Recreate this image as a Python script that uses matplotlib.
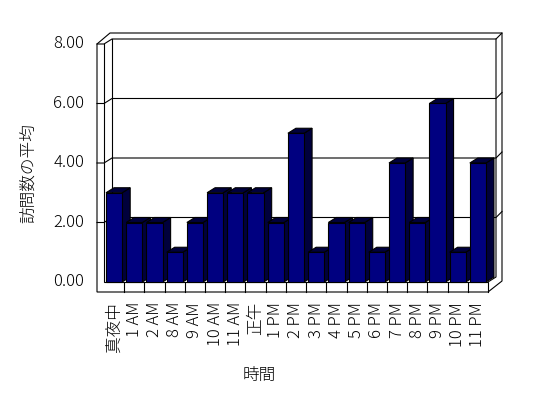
import matplotlib
matplotlib.use('Agg')
import matplotlib.pyplot as plt
from matplotlib.patches import Polygon

plt.rcParams['font.family'] = ['Noto Sans CJK JP', 'DejaVu Sans']
plt.rcParams['font.size'] = 12
plt.rcParams['font.weight'] = 'light'

hours = ['真夜中', '1 AM', '2 AM', '8 AM', '9 AM', '10 AM', '11 AM', '正午',
         '1 PM', '2 PM', '3 PM', '4 PM', '5 PM', '6 PM', '7 PM', '8 PM',
         '9 PM', '10 PM', '11 PM']
visits = [3, 2, 2, 1, 2, 3, 3, 3, 2, 5, 1, 2, 2, 1, 4, 2, 6, 1, 4]
yticks = [0, 2, 4, 6, 8]

W, H = 548, 398
fig = plt.figure(figsize=(W / 100, H / 100), dpi=100)
# front plane of the 3d box, in pixels
left, right, top, bottom = 104, 488, 44, 282
ax = fig.add_axes([left / W, 1 - bottom / H, (right - left) / W, (bottom - top) / H])
n = len(hours)
x0, x1 = -0.5, n - 0.5
ax.set_xlim(x0, x1)
ax.set_ylim(0, 8)
ax.axis('off')

kx = (right - left) / n   # px per category
ky = (bottom - top) / 8   # px per unit


def P(x, y, dx=0, dy=0):
    # data point shifted by dx px right, dy px up
    return (x + dx / kx, y + dy / ky)


def line(pts, z=1):
    xs, ys = zip(*pts)
    ax.plot(xs, ys, color='black', lw=0.8, zorder=z, clip_on=False,
            solid_joinstyle='miter')


D = (8, 5)      # depth of the floor / back wall
O = (14, 11)    # outer edge of the walls

# outline of the walls and floor
outer = [P(x0, 0, -7, -10), P(x0, 8, -7, 0), P(x0, 8, 6, 11), P(x1, 8, *O),
         P(x1, 0, 14, 1), P(x1, 0, 0, -10)]
ax.add_patch(Polygon(outer, closed=True, facecolor='white', edgecolor='black',
                     lw=0.8, zorder=0, clip_on=False))

line([P(x0, 8), P(x0, 0), P(x1, 0), P(x1, 0, 0, -10)])
line([P(x0, 8, -7, 0), P(x0, 8), P(x0, 8, *D), P(x1, 8, *D), P(x1, 8, *O)])
line([P(x1, 8, *D), P(x1, 0, *D), P(x1, 0)])
line([P(x0, 8, *D), P(x0, 0, *D)])
for v in yticks[1:-1]:
    line([P(x0, v, -7, 0), P(x0, v), P(x0, v, *D), P(x1, v, *D), P(x1, v, *O)])
for i in range(1, n):
    line([P(x0 + i, 0), P(x0 + i, 0, 0, -10)])

# bars
w = 0.8
dark = '#00003c'
for i, v in enumerate(visits):
    xl, xr = i - w / 2, i + w / 2
    side = [P(xr, 0), P(xr, v), P(xr, v, *D), P(xr, 0, *D)]
    topf = [P(xl, v), P(xr, v), P(xr, v, *D), P(xl, v, *D)]
    for poly in (side, topf):
        ax.add_patch(Polygon(poly, closed=True, facecolor=dark, edgecolor='black',
                             lw=0.8, zorder=2, clip_on=False))
ax.bar(range(n), visits, width=w, color='#000080', edgecolor='black', lw=0.8,
       zorder=3, clip_on=False)

# labels
for v in yticks:
    ax.text(x0 - 20 / kx, v, f'{v:.2f}', ha='right', va='center')
for i, h in enumerate(hours):
    ax.text(i, -20 / ky, h, rotation=90, ha='center', va='top')

fig.text(28 / W, 1 - 173 / H, '訪問数の平均', rotation=90, ha='center', va='center')
fig.text(259 / W, 1 - 375 / H, '時間', ha='center', va='center')

fig.savefig('out.png', dpi=100)
